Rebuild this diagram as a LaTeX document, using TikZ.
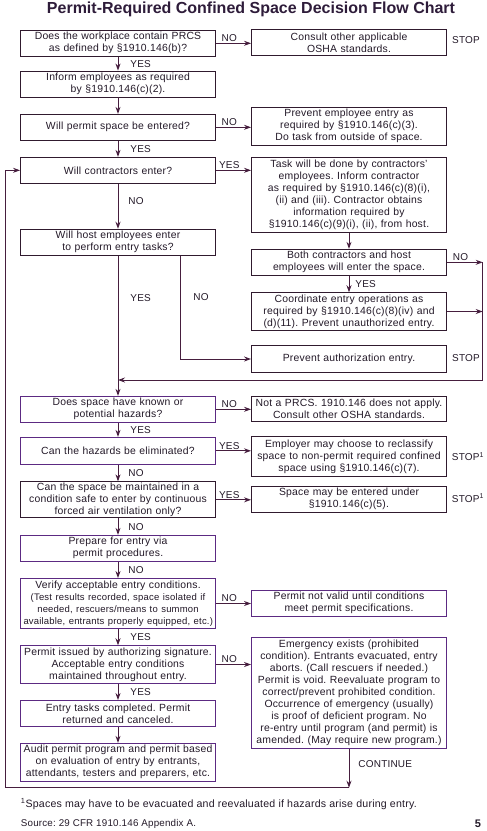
\documentclass[tikz,border=0pt]{standalone}
\usepackage{fontspec}
\setmainfont{Liberation Sans}[LetterSpace=2]
\newfontfamily\headfont{Liberation Sans}
\usetikzlibrary{arrows.meta}

\definecolor{ink}{RGB}{35,25,40}
\definecolor{linec}{RGB}{70,30,62}
\definecolor{darkbox}{RGB}{48,26,46}
\definecolor{purplebox}{RGB}{92,42,130}

\newcommand{\boxfont}{\fontsize{10.4}{12}\selectfont}
\newcommand{\lblfont}{\fontsize{10}{12}\selectfont}
\newcommand{\smallfont}{\fontsize{9.5}{12}\selectfont}
\frenchspacing
\hyphenpenalty=10000
\exhyphenpenalty=10000

\begin{document}
\begin{tikzpicture}[x=1pt, y=-1pt,
        >={Stealth[length=7pt,width=5pt]},
        box/.style={draw=darkbox, line width=0.9pt, text=ink, font=\boxfont,
          text width=189pt, inner xsep=3pt, inner ysep=1pt, align=center,
          minimum height=26pt},
        pbox/.style={box, draw=purplebox},
        lbl/.style={text=ink, font=\lblfont, inner sep=0pt},
        arr/.style={->, draw=linec, line width=0.9pt}]

      \useasboundingbox (0,0) rectangle (487,831);

      % Title
      \node[text=ink!80!purplebox, font=\headfont\bfseries\fontsize{16}{18}\selectfont]
        (title) at (251,9) {Permit-Required Confined Space Decision Flow Chart};

      % Left column
      \node[box] (Q1) at (118,43.3) {Does the workplace contain PRCS\\as defined by §1910.146(b)?};
      \node[box] (Q2) at (118,84) {Inform employees as required\\by §1910.146(c)(2).};
      \node[box] (Q3) at (118,127.3) {Will permit space be entered?};
      \node[box] (Q4) at (118,170.3) {Will contractors enter?};
      \node[box] (Q5) at (118,242.2) {Will host employees enter\\to perform entry tasks?};
      \node[pbox] (Q6) at (118,409.3) {Does space have known or\\potential hazards?};
      \node[pbox, minimum height=27pt] (Q7) at (118,450.8) {Can the hazards be eliminated?};
      \node[box, minimum height=36pt] (Q8) at (118,499.8) {Can the space be maintained in a\\condition safe to enter by continuous\\forced air ventilation only?};
      \node[pbox] (Q9) at (118,548.3) {Prepare for entry via\\permit procedures.};
      \node[pbox, minimum height=50pt] (Q10) at (118,603.5) {Verify acceptable entry conditions.\\{\smallfont (Test results recorded, space isolated if\\needed, rescuers/means to summon\\available, entrants properly equipped, etc.)}};
      \node[pbox, minimum height=37.6pt] (Q11) at (118,664.5) {Permit issued by authorizing signature.\\Acceptable entry conditions\\maintained throughout entry.};
      \node[pbox] (Q12) at (118,713.5) {Entry tasks completed. Permit\\returned and canceled.};
      \node[pbox, minimum height=38pt] (Q13) at (118,762.3) {Audit permit program and permit based\\on evaluation of entry by entrants,\\attendants, testers and preparers, etc.};

      % Right column
      \node[box] (A1) at (349,42.3) {Consult other applicable\\OSHA standards.};
      \node[box, minimum height=38pt] (A3) at (349,126.3) {Prevent employee entry as\\required by §1910.146(c)(3).\\Do task from outside of space.};
      \node[box, minimum height=75pt] (A4) at (349,194.8) {Task will be done by contractors'\\employees. Inform contractor\\as required by §1910.146(c)(8)(i),\\(ii) and (iii). Contractor obtains\\information required by\\§1910.146(c)(9)(i), (ii), from host.};
      \node[box] (Both) at (349,262.3) {Both contractors and host\\employees will enter the space.};
      \node[box, minimum height=37.6pt] (Coord) at (349,311.5) {Coordinate entry operations as\\required by §1910.146(c)(8)(iv) and\\(d)(11). Prevent unauthorized entry.};
      \node[box, minimum height=26.6pt] (Prev) at (349,359) {Prevent authorization entry.};
      \node[box, minimum height=25pt] (A6) at (349,408.5) {Not a PRCS. 1910.146 does not apply.\\Consult other OSHA standards.};
      \node[box, minimum height=39.6pt] (A7) at (349,456.5) {Employer may choose to reclassify\\space to non-permit required confined\\space using §1910.146(c)(7).};
      \node[box] (A8) at (349,499.2) {Space may be entered under\\§1910.146(c)(5).};
      \node[pbox] (A10) at (349,603.3) {Permit not valid until conditions\\meet permit specifications.};
      \node[pbox, minimum height=111pt] (A11) at (349,692.8) {Emergency exists (prohibited\\condition). Entrants evacuated, entry\\aborts. (Call rescuers if needed.)\\Permit is void. Reevaluate program to\\correct/prevent prohibited condition.\\Occurrence of emergency (usually)\\is proof of deficient program. No\\re-entry until program (and permit) is\\amended. (May require new program.)};

      % Stop marks
      \node[lbl] (S1) at (466,40) {STOP};
      \node[lbl] (S5) at (466,358.3) {STOP};
      \node[lbl] (S7) at (468,456.7) {STOP\textsuperscript{1}};
      \node[lbl] (S8) at (468,498.3) {STOP\textsuperscript{1}};

      % Connections left column
      \draw[arr] (Q1.south) -- node[lbl, right=12pt] {YES} (Q2.north);
      \draw[arr] (Q2.south) -- (Q3.north);
      \draw[arr] (Q3.south) -- node[lbl, right=12pt] {YES} (Q4.north);
      \draw[arr] (Q4.south) -- node[lbl, right=10pt, pos=0.38] {NO} (Q5.north);
      \draw[arr] (Q5.south) -- node[lbl, right=12pt, pos=0.3] {YES} (Q6.north);
      \draw[arr] ([xshift=62pt]Q5.south) |- node[lbl, right=13pt, pos=0.2] {NO} (Prev.west);
      \draw[arr] (Q6.south) -- node[lbl, right=12pt] {YES} (Q7.north);
      \draw[arr] (Q7.south) -- node[lbl, right=10pt] {NO} (Q8.north);
      \draw[arr] (Q8.south) -- node[lbl, right=10pt] {NO} (Q9.north);
      \draw[arr] (Q9.south) -- node[lbl, right=10pt] {NO} (Q10.north);
      \draw[arr] (Q10.south) -- node[lbl, right=12pt] {YES} (Q11.north);
      \draw[arr] (Q11.south) -- node[lbl, right=12pt] {YES} (Q12.north);
      \draw[arr] (Q12.south) -- (Q13.north);

      % Connections left -> right
      \draw[arr] (Q1.east) -- node[lbl, above=1pt, pos=0.38] {NO} (Q1.east -| A1.west);
      \draw[arr] (Q3.east) -- node[lbl, above=1pt, pos=0.38] {NO} (Q3.east -| A3.west);
      \draw[arr] (Q4.east) -- node[lbl, above=1pt, pos=0.38] {YES} (Q4.east -| A4.west);
      \draw[arr] (Q6.east) -- node[lbl, above=1pt, pos=0.38] {NO} (Q6.east -| A6.west);
      \draw[arr] (Q7.east) -- node[lbl, above=1pt, pos=0.38] {YES} (Q7.east -| A7.west);
      \draw[arr] (Q8.east) -- node[lbl, above=1pt, pos=0.38] {YES} (Q8.east -| A8.west);
      \draw[arr] (Q10.east) -- node[lbl, above=1pt, pos=0.38] {NO} (Q10.east -| A10.west);
      \draw[arr] (Q11.east) -- node[lbl, above=1pt, pos=0.38] {NO} (Q11.east -| A11.west);

      % Connections right column
      \coordinate (R) at (482.7,262.3);
      \coordinate (RJ) at (482.7,380);
      \coordinate (J) at (118,380);
      \draw[arr] (A4.south) -- (Both.north);
      \draw[arr] (Both.south) -- node[lbl, right=6pt] {YES} (Coord.north);
      \draw[arr] (Both.east) -- node[lbl, above=1pt, pos=0.38] {NO} (R);
      \draw[arr] (Coord.east) -- (Coord.east -| R);
      \draw[arr] (R) -- (RJ) -- (J);

      % Return loop
      \coordinate (cont) at (349,787.7);
      \coordinate (back) at (5.7,787.7);
      \draw[arr] (A11.south) -- node[lbl, right=9pt, pos=0.4] {CONTINUE} (cont);
      \draw[arr] (cont) -- (back) |- (Q4.west);

      % Notes
      \node[lbl, anchor=west, font=\fontsize{10.6}{12}\selectfont] (fn) at (20.7,804)
        {\textsuperscript{1}Spaces may have to be evacuated and reevaluated if hazards arise during entry.};
      \node[lbl, anchor=west, font=\fontsize{9.8}{11}\selectfont] (src) at (20.7,824)
        {Source: 29 CFR 1910.146 Appendix A.};
      \node[lbl, anchor=north, font=\headfont\bfseries\fontsize{11}{11}\selectfont] (page) at (478,820) {5};
    \end{tikzpicture}
\end{document}
